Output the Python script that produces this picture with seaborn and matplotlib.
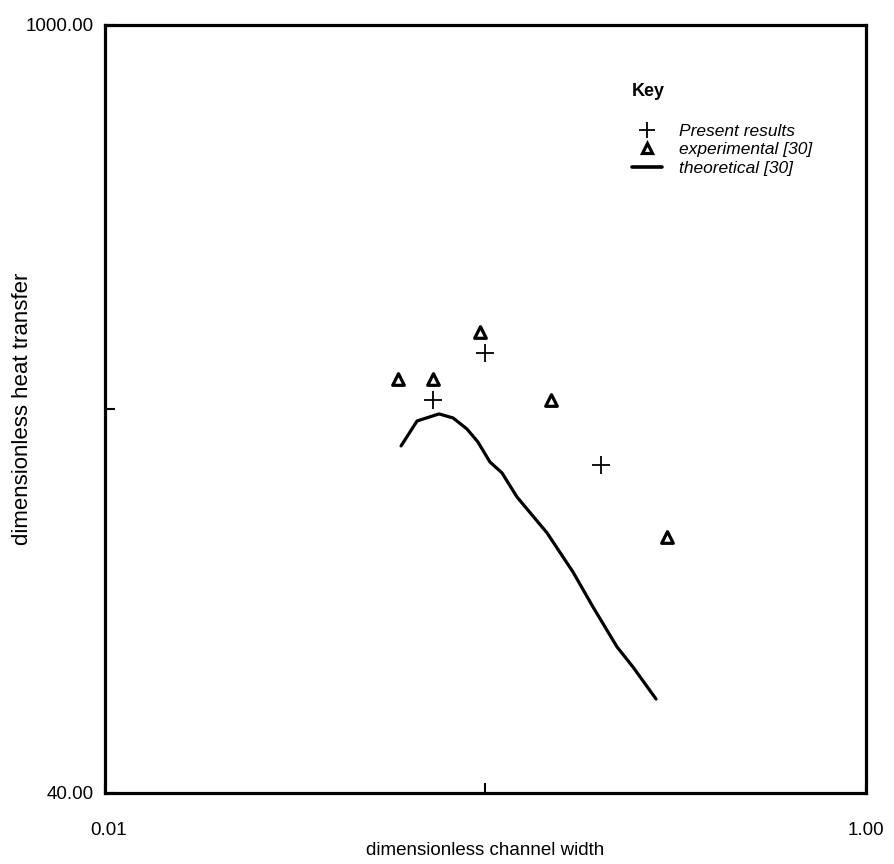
import matplotlib
matplotlib.use("Agg")
import matplotlib.pyplot as plt
from matplotlib.lines import Line2D
from matplotlib.transforms import ScaledTranslation
import seaborn as sns
import pandas as pd

# Present results (computed)
present_x = [0.073, 0.100, 0.201]
present_y = [208, 253, 158]

# Experimental data, ref. [30]
exp_x = [0.059, 0.073, 0.097, 0.149, 0.300]
exp_y = [227, 227, 276, 208, 117]

# Theoretical curve, ref. [30]
theory_x = [0.0600, 0.0661, 0.0755, 0.0822, 0.0894, 0.0955, 0.1027, 0.1105,
            0.1210, 0.1451, 0.1698, 0.1917, 0.2216, 0.2442, 0.2807]
theory_y = [171.3, 190.2, 195.9, 192.6, 183.9, 174.2, 160.2, 153.0,
            138.3, 119.0, 101.0, 87.2, 73.8, 67.8, 59.3]

x_ticks = [0.01, 0.1, 1.0]
x_ticklabels = ["0.01", "", "1.00"]
y_ticks = [40, 200, 1000]
y_ticklabels = ["40.00", "", "1000.00"]

sns.set_theme(style="white")
plt.rcParams["font.family"] = ["Liberation Sans", "DejaVu Sans"]
plt.rcParams["text.color"] = "black"
plt.rcParams["axes.labelcolor"] = "black"

fig = plt.figure(figsize=(8.94, 8.64), dpi=100)
ax = fig.add_axes([0.1174, 0.0822, 0.8513, 0.8889])

theory = pd.DataFrame({"x": theory_x, "y": theory_y})
present = pd.DataFrame({"x": present_x, "y": present_y})
exper = pd.DataFrame({"x": exp_x, "y": exp_y})

sns.lineplot(data=theory, x="x", y="y", ax=ax, color="black", linewidth=2.3,
             sort=False, estimator=None)
sns.scatterplot(data=present, x="x", y="y", ax=ax, marker="+", s=170,
                color="black", linewidth=1.3)
sns.scatterplot(data=exper, x="x", y="y", ax=ax, marker="^", s=70,
                facecolor="white", edgecolor="black", linewidth=2.3)

ax.set_xscale("log")
ax.set_yscale("log")
ax.set_xlim(0.01, 1.0)
ax.set_ylim(40, 1000)
ax.minorticks_off()
ax.set_xticks(x_ticks)
ax.set_xticklabels(x_ticklabels)
ax.set_yticks(y_ticks)
ax.set_yticklabels(y_ticklabels)
ax.tick_params(axis="x", direction="in", length=7, width=1.5, pad=21,
               labelsize=13.5, colors="black", bottom=True)
ax.tick_params(axis="y", direction="in", length=7, width=1.5, pad=8,
               labelsize=13.5, colors="black", left=True)

# nudge the leftmost x tick label a little to the right
first = ax.get_xticklabels()[0]
first.set_transform(first.get_transform() +
                    ScaledTranslation(4 / 100, 0, fig.dpi_scale_trans))

for sp in ax.spines.values():
    sp.set_visible(True)
    sp.set_color("black")
    sp.set_linewidth(2.3)

ax.set_xlabel("dimensionless channel width", fontsize=13.5)
ax.set_ylabel("dimensionless heat transfer", fontsize=16)
ax.xaxis.set_label_coords(0.5, -0.064)
ax.yaxis.set_label_coords(-0.095, 0.5)

handles = [
    Line2D([], [], marker="+", linestyle="none", color="black",
           markersize=12, markeredgewidth=1.3),
    Line2D([], [], marker="^", linestyle="none", markerfacecolor="white",
           markeredgecolor="black", markersize=7.5, markeredgewidth=2.3),
    Line2D([], [], color="black", linewidth=2.6),
]
labels = ["Present results", "experimental [30]", "theoretical [30]"]
leg = ax.legend(handles, labels, title="Key", frameon=False,
                loc="upper left", bbox_to_anchor=(0.672, 0.945),
                prop={"style": "italic", "size": 12.5},
                title_fontproperties={"weight": "bold", "size": 13},
                alignment="left", handlelength=1.7, handletextpad=1.0,
                labelspacing=0.2)
leg._legend_box.sep = 17

fig.savefig("out.png", dpi=100, facecolor="white")
